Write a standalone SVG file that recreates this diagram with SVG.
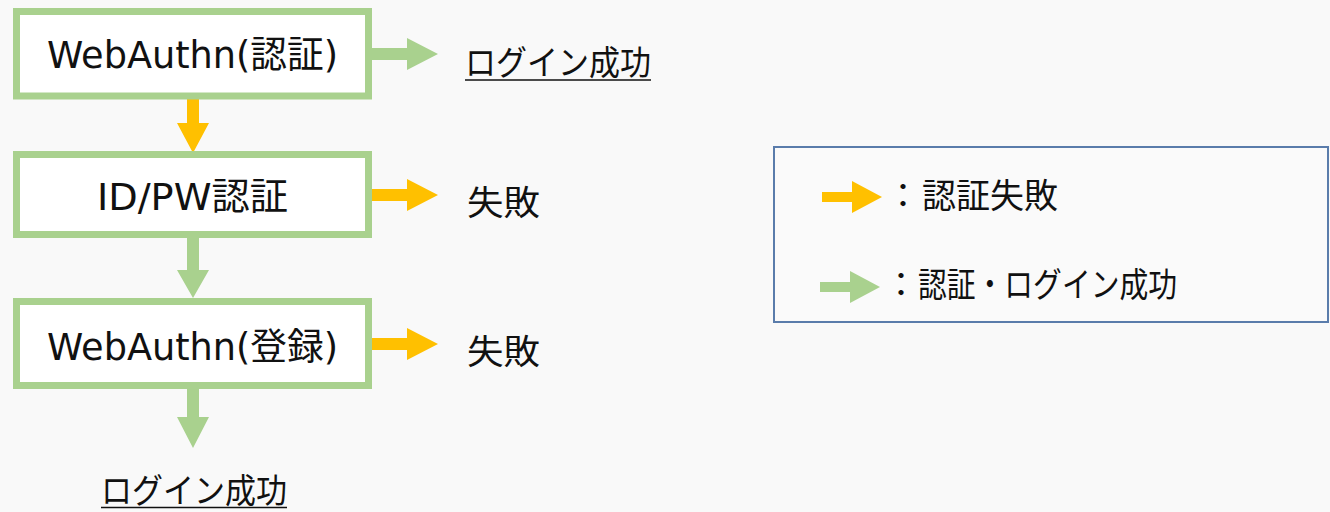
<svg xmlns="http://www.w3.org/2000/svg" width="1330" height="512" viewBox="0 0 1330 512">
  <style>
    .box { fill: #ffffff; stroke: #a9d18e; stroke-width: 7; }
    .lbl { font-family: "DejaVu Sans", "Noto Sans CJK JP", sans-serif; font-size: 37px; fill: #111111; }
    .jp { font-family: "Noto Sans CJK JP", sans-serif; font-size: 34px; fill: #111111; }
    .green { fill: #a9d18e; }
    .yellow { fill: #ffc000; }
    .ul { stroke: #111111; stroke-width: 1.6; }
  </style>
  <rect x="0" y="0" width="1330" height="512" fill="#f9f9f9"/>

  <g id="connectors">
    <polygon class="green" points="372,48 407,48 407,38 438,54 407,70 407,60 372,60"/>
    <polygon class="yellow" points="187,99 199,99 199,123 209,123 193,153 177,123 187,123"/>
    <polygon class="yellow" points="372,189 407,189 407,179 438,195 407,211 407,201 372,201"/>
    <polygon class="green" points="187,238 199,238 199,270 209,270 193,298 177,270 187,270"/>
    <polygon class="yellow" points="372,338 407,338 407,328 438,344 407,360 407,350 372,350"/>
    <polygon class="green" points="187,389 199,389 199,417 209,417 193,448 177,417 187,417"/>
  </g>

  <g id="node-webauthn-auth">
    <rect class="box" x="16.5" y="11.5" width="352" height="84.5"/>
    <text class="lbl" x="47" y="68" textLength="291" lengthAdjust="spacingAndGlyphs">WebAuthn(認証)</text>
  </g>
  <g id="node-idpw">
    <rect class="box" x="16.5" y="154.5" width="352" height="80"/>
    <text class="lbl" x="97" y="210" textLength="191" lengthAdjust="spacingAndGlyphs">ID/PW認証</text>
  </g>
  <g id="node-webauthn-reg">
    <rect class="box" x="16.5" y="301.5" width="352" height="84"/>
    <text class="lbl" x="47" y="360" textLength="291" lengthAdjust="spacingAndGlyphs">WebAuthn(登録)</text>
  </g>

  <g id="result-login-top">
    <text class="jp" x="465" y="75" textLength="186" lengthAdjust="spacingAndGlyphs">ログイン成功</text>
    <line class="ul" x1="465" y1="80" x2="651" y2="80"/>
  </g>
  <g id="result-fail-1">
    <text class="jp" x="467" y="215" textLength="73" lengthAdjust="spacingAndGlyphs">失敗</text>
  </g>
  <g id="result-fail-2">
    <text class="jp" x="467" y="364" textLength="73" lengthAdjust="spacingAndGlyphs">失敗</text>
  </g>
  <g id="result-login-bottom">
    <text class="jp" x="101" y="503" textLength="186" lengthAdjust="spacingAndGlyphs">ログイン成功</text>
    <line class="ul" x1="101" y1="507.5" x2="287" y2="507.5"/>
  </g>

  <g id="legend">
    <rect x="774" y="147" width="554" height="175" fill="#fafafa" stroke="#5a7cab" stroke-width="2"/>
    <polygon class="yellow" points="822,192 852,192 852,181 882,197 852,213 852,202 822,202"/>
    <text class="jp" x="886" y="208">：</text>
    <text class="jp" x="922" y="208" textLength="136" lengthAdjust="spacingAndGlyphs">認証失敗</text>
    <polygon class="green" points="820,282 850,282 850,271 880,287 850,303 850,292 820,292"/>
    <text class="jp" x="884" y="297">：</text>
    <text class="jp" x="918" y="297" textLength="259" lengthAdjust="spacingAndGlyphs">認証・ログイン成功</text>
  </g>
</svg>
